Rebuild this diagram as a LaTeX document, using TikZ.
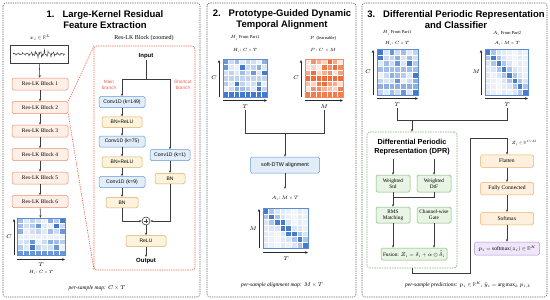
\documentclass[tikz,border=0pt]{standalone}
\usepackage{amsmath}
\usepackage{fontspec}
\usepackage{unicode-math}
\setmainfont{Liberation Serif}
\setsansfont{Liberation Sans}
\setmathfont{Latin Modern Math}
\usetikzlibrary{arrows.meta,calc}

\definecolor{pborder}{RGB}{95,95,95}
\definecolor{resfill}{RGB}{253,238,230}
\definecolor{resdraw}{RGB}{232,140,115}
\definecolor{zoomred}{RGB}{235,95,70}
\definecolor{convfill}{RGB}{226,237,250}
\definecolor{convdraw}{RGB}{100,150,210}
\definecolor{bnfill}{RGB}{253,242,218}
\definecolor{bndraw}{RGB}{215,175,100}
\definecolor{dprfill}{RGB}{232,244,228}
\definecolor{dprdraw}{RGB}{125,180,115}
\definecolor{clsfill}{RGB}{254,240,220}
\definecolor{clsdraw}{RGB}{240,175,100}
\definecolor{outfill}{RGB}{240,230,250}
\definecolor{outdraw}{RGB}{175,140,215}
\definecolor{hblue}{RGB}{50,110,200}
\definecolor{horange}{RGB}{240,110,60}
\definecolor{linec}{RGB}{60,60,60}
\definecolor{axc}{RGB}{40,40,40}

\newcommand\hmrand[9]{%
  \pgfmathsetmacro\hmcw{#3/#5}%
  \pgfmathsetmacro\hmch{#4/#6}%
  \foreach \i in {1,...,#5}{\foreach \j in {1,...,#6}{%
    \pgfmathtruncatemacro\hmv{mod(\i*7+\j*13+\i*\j*\j*3+#8,11)}%
    \pgfmathtruncatemacro\hmp{{#9}[\hmv]}%
    \fill[#7!\hmp!white] ({#1+(\i-1)*\hmcw},{#2+(\j-1)*\hmch}) rectangle ++(\hmcw,\hmch);
    \draw[white, line width=0.35pt] ({#1+(\i-1)*\hmcw},{#2+(\j-1)*\hmch}) rectangle ++(\hmcw,\hmch);
  }}%
  \draw[#7!80!white, line width=0.35pt] (#1,#2) rectangle ++(#3,#4);
}
\newcommand\hmdiag[7]{%
  \pgfmathsetmacro\hmcw{#3/#5}%
  \pgfmathsetmacro\hmch{#4/#6}%
  \foreach \i in {1,...,#5}{\foreach \j in {1,...,#6}{%
    \pgfmathsetmacro\hmd{abs((\i-0.5)*#6/#5-(\j-0.5))}%
    \pgfmathtruncatemacro\hmp{\hmd<0.6?90:(\hmd<1.3?40:(\hmd<2.2?18:6+mod(\i*5+\j*3,3)*4))}%
    \fill[#7!\hmp!white] ({#1+(\i-1)*\hmcw},{#2+(\j-1)*\hmch}) rectangle ++(\hmcw,\hmch);
    \draw[white, line width=0.35pt] ({#1+(\i-1)*\hmcw},{#2+(\j-1)*\hmch}) rectangle ++(\hmcw,\hmch);
  }}%
  \draw[#7!80!white, line width=0.35pt] (#1,#2) rectangle ++(#3,#4);
}

\tikzset{
 panel/.style={draw=pborder, line width=0.6pt, dash pattern=on 1.3pt off 1pt, rounded corners=3pt},
 basebox/.style={rounded corners=1.6pt, inner sep=0pt, line width=0.5pt, align=center},
 resbox/.style={basebox, draw=resdraw, fill=resfill, minimum width=56pt, minimum height=12pt, font=\fontsize{5.5}{6.5}\selectfont},
 convbox/.style={basebox, draw=convdraw, fill=convfill, minimum height=11pt, font=\sffamily\fontsize{5.1}{6}\selectfont},
 bnbox/.style={basebox, draw=bndraw, fill=bnfill, minimum height=10.5pt, font=\sffamily\fontsize{5}{6}\selectfont},
 dprbox/.style={basebox, draw=dprdraw, fill=dprfill, minimum width=34pt, font=\fontsize{5.3}{6.3}\selectfont},
 clsbox/.style={basebox, draw=clsdraw, fill=clsfill, minimum width=53pt, minimum height=12.5pt, font=\fontsize{5.6}{6.5}\selectfont},
 outbox/.style={basebox, draw=outdraw, fill=outfill, minimum width=65pt, minimum height=13pt, font=\fontsize{5.5}{6.5}\selectfont},
 lbl/.style={inner sep=0.5pt, font=\fontsize{4.5}{5}\selectfont},
 axl/.style={inner sep=0.5pt, font=\fontsize{5.5}{6}\selectfont},
 captxt/.style={inner sep=0.5pt, font=\itshape\fontsize{5.5}{6.5}\selectfont},
 ttl/.style={align=center, inner sep=0pt, font=\sffamily\bfseries\fontsize{9.5}{11}\selectfont},
 ln/.style={draw=linec, line width=0.55pt},
 arr/.style={ln, -{Stealth[length=2.6pt,width=2.2pt]}},
 axis/.style={draw=axc, line width=0.75pt, -{Stealth[length=3pt,width=2.6pt]}},
 zoomd/.style={draw=zoomred, line width=0.6pt, dash pattern=on 1.3pt off 1pt},
 brl/.style={inner sep=0.5pt, align=center, text=zoomred, font=\sffamily\fontsize{4.7}{5.4}\selectfont},
 bold6/.style={inner sep=1pt, font=\sffamily\bfseries\fontsize{6}{7}\selectfont},
}

\begin{document}
\begin{tikzpicture}[x=1pt,y=-1pt]
\useasboundingbox (0,0) rectangle (550,300);
% panels
\draw[panel] (3,3) rectangle (200,297);
\draw[panel] (207,3) rectangle (356,297);
\draw[panel] (362,3) rectangle (547,297);

% ---------------- Panel 1
\node[ttl] (t1) at (105,19.5) {1.\hspace{8pt}Large-Kernel Residual\\Feature Extraction};
\node[lbl, font=\fontsize{5.2}{6}\selectfont] (xl) at (40,38) {$x_i \in \mathbb{R}^L$};
\node[draw=linec, line width=0.6pt, fill=white, minimum width=58pt, minimum height=18pt, inner sep=0pt] (sig) at (39,54) {\phantom{.}};
\draw[linec, line width=0.4pt] plot[domain=0:52, samples=105] ({13+\x},{54-(0.6+1.5*exp(-((\x-30)/12)^2))*(sin(\x*83)+0.8*sin(\x*197+30)+0.5*sin(\x*311))});
\foreach \k/\yy in {1/84,2/107.5,3/131,4/154.5,5/178,6/201.5}{
  \node[resbox] (b\k) at (40,\yy) {Res-LK Block \k};
}
\draw[arr] (sig) -- (b1);
\foreach \a/\b in {1/2,2/3,3/4,4/5,5/6} \draw[arr] (b\a) -- (b\b);
\node[inner sep=0pt, minimum width=48pt, minimum height=37pt] (hm1) at (41,236.5) {\phantom{.}};
\hmrand{17}{218}{48}{37}{8}{7}{hblue}{3}{10,22,30,15,45,25,72,18,92,35,55}
\draw[arr] (b6) -- (hm1);
\draw[axis] (14,255) -- (14,219);
\draw[axis] (17,259.5) -- (65,259.5);
\node[axl] (C1) at (9,237) {$C$};
\node[axl] (T1) at (41,265) {$T$};
\node[lbl] (H1) at (41,272) {$H_i$: $C\times T$};
\node[captxt] (cap1) at (97,288) {per-sample map: $C\times T$};

% zoom box
\coordinate (zt) at (94,46);
\coordinate (zb) at (94,270);
\draw[zoomd, rounded corners=3pt] (zt) rectangle (195,270);
\draw[zoomd] (b2.north east) -- (zt);
\draw[zoomd] (b2.south east) -- (zb);
\node[lbl, font=\fontsize{6}{7}\selectfont] (zl) at (144,38) {Res-LK Block (zoomed)};

\node[bold6] (in) at (146,56) {Input};
\coordinate (split) at (146,79);
\node[brl] (mb) at (109,85) {Main\\branch};
\node[brl] (sb) at (183,85) {Shortcut\\branch};
\node[convbox, minimum width=46pt] (c1) at (122,102) {Conv1D (k=149)};
\node[bnbox, minimum width=40pt] (r1) at (122,122) {BN+ReLU};
\node[convbox, minimum width=46pt] (c2) at (122,141.5) {Conv1D (k=75)};
\node[bnbox, minimum width=40pt] (r2) at (122,162) {BN+ReLU};
\node[convbox, minimum width=46pt] (c3) at (122,182) {Conv1D (k=9)};
\node[bnbox, minimum width=32pt] (bn) at (122,202.5) {BN};
\node[convbox, minimum width=40pt] (cs) at (170,155) {Conv1D (k=1)};
\node[bnbox, minimum width=30pt] (bs) at (170,178.5) {BN};
\node[draw=linec, line width=0.55pt, fill=white, circle, minimum size=8pt, inner sep=0pt] (plus) at (146,221) {\phantom{.}};
\draw[linec, line width=0.5pt] ($(plus.center)+(-2.3,0)$) -- ++(4.6,0);
\draw[linec, line width=0.5pt] ($(plus.center)+(0,-2.3)$) -- ++(0,4.6);
\node[bnbox, minimum width=40pt, minimum height=11pt] (relu) at (146,241) {ReLU};
\node[bold6] (out) at (146,261) {Output};

\draw[ln] (in) -- (split);
\draw[arr] (split) -| (c1);
\draw[arr] (split) -| (cs);
\draw[arr] (c1) -- (r1);
\draw[arr] (r1) -- (c2);
\draw[arr] (c2) -- (r2);
\draw[arr] (r2) -- (c3);
\draw[arr] (c3) -- (bn);
\draw[arr] (cs) -- (bs);
\draw[arr] (bn) |- (plus);
\draw[arr] (bs) |- (plus);
\draw[arr] (plus) -- (relu);
\draw[arr] (relu) -- (out);

% ---------------- Panel 2
\node[ttl] (t2) at (282,19.5) {2.\hspace{8pt}Prototype-Guided Dynamic\\Temporal Alignment};
\node[lbl] (h2a) at (245,38) {$H_i$ From Part1};
\node[lbl] (h2b) at (245,50) {$H_i$: $C\times T$};
\node[lbl] (p2a) at (323,38) {$P$\ \ (learnable)};
\node[lbl] (p2b) at (323,50) {$P$ : $C\ \times M$};
\hmrand{223}{59}{44}{38}{8}{7}{hblue}{5}{10,22,30,15,45,25,72,18,92,35,55}
\hmrand{305}{59}{38}{38}{7}{7}{horange}{2}{30,55,75,20,65,90,45,80,15,60,100}
\draw[axis] (219,97) -- (219,60);
\draw[axis] (223,100.5) -- (267,100.5);
\draw[axis] (301,97) -- (301,60);
\draw[axis] (305,100.5) -- (343,100.5);
\node[axl] (C2) at (214,78) {$C$};
\node[axl] (C2b) at (296,78) {$C$};
\node[axl] (T2) at (245,107) {$T$};
\node[axl] (M2) at (324,107) {$M$};
\coordinate (j2) at (285,133);
\draw[ln] (T2) |- (j2);
\draw[ln] (M2) |- (j2);
\node[convbox, minimum width=69pt, minimum height=16pt, font=\sffamily\fontsize{5.4}{6}\selectfont] (dtw) at (285,165) {soft-DTW alignment};
\draw[arr] (j2) -- (dtw);
\node[lbl, font=\fontsize{4.8}{5}\selectfont] (Al) at (285,198) {$A_i$: $M\times T$};
\draw[arr, shorten >=6pt] (dtw) -- (Al);
\hmdiag{263}{208}{45}{40}{8}{7}{hblue}
\draw[axis] (259,248) -- (259,209);
\draw[axis] (263,252.5) -- (308,252.5);
\node[axl] (M2b) at (253,229) {$M$};
\node[axl] (T2b) at (286,258.5) {$T$};
\node[captxt] (cap2) at (282,285) {per-sample alignment map: $M\times T$};

% ---------------- Panel 3
\node[ttl] (t3) at (456,19.5) {3.\hspace{8pt}Differential Periodic Representation\\and Classifier};
\node[lbl] (h3a) at (397,33) {$H_i$ From Part1};
\node[lbl] (h3b) at (397,43) {$H_i$: $C\times T$};
\node[lbl] (a3a) at (507,33) {$A_i$ From Part2};
\node[lbl] (a3b) at (507,43) {$A_i$: $M\times T$};
\hmrand{377}{49}{41}{46}{7}{8}{hblue}{7}{10,22,30,15,45,25,72,18,92,35,55}
\hmdiag{485}{49}{43}{46}{8}{8}{hblue}
\draw[axis] (373,95) -- (373,50);
\draw[axis] (377,98.5) -- (418,98.5);
\draw[axis] (481,95) -- (481,50);
\draw[axis] (485,98.5) -- (528,98.5);
\node[axl] (C3) at (368,72) {$C$};
\node[axl] (M3) at (476,72) {$M$};
\node[axl] (T3) at (397,105) {$T$};
\node[axl] (T3b) at (507,105) {$T$};
\coordinate (j3) at (412,120);
\draw[ln] (T3) |- (j3);
\draw[ln] (T3b) |- (j3);

\node[draw=dprdraw, line width=0.6pt, dash pattern=on 1.5pt off 1pt, rounded corners=3pt, minimum width=90pt, minimum height=136pt, inner sep=0pt] (dpr) at (412,200) {\phantom{.}};
\draw[arr] (j3) -- (dpr);
\node[align=center, inner sep=0pt, font=\sffamily\bfseries\fontsize{7.3}{9.5}\selectfont] (dprt) at (412,147) {Differential Periodic\\Representation (DPR)};
\coordinate (s1) at (393,159);
\coordinate (s2) at (434,159);
\node[dprbox, minimum height=17pt] (ws) at (393,183.5) {Weighted\\Std};
\node[dprbox, minimum height=17pt] (wd) at (434,183.5) {Weighted\\DtF};
\node[dprbox, minimum height=16pt] (rms) at (393,215) {RMS\\Matching};
\node[dprbox, minimum height=16pt] (gate) at (434,215) {Channel-wise\\Gate};
\node[dprbox, minimum width=66pt, minimum height=12pt] (fus) at (414,254) {Fusion: $Z_i=\delta_i+\alpha\odot\tilde{\delta}_i$};
\coordinate (m1) at (393,197);
\draw[arr] (s1) -- (ws);
\draw[arr] (s2) -- (wd);
\draw[arr] (ws) -- (rms);
\draw[ln] (wd) |- (m1);
\draw[arr] (rms) -- (rms |- fus.north);
\draw[arr] (gate) -- (gate |- fus.north);

\node[clsbox] (flat) at (507,161) {Flatten};
\node[clsbox] (fc) at (507,188.5) {Fully Connected};
\node[clsbox] (soft) at (507,218.5) {Softmax};
\node[outbox] (pout) at (507,248.5) {$p_i=\mathrm{softmax}(z_i)\in\mathbb{R}^K$};
\draw[arr] (flat) -- (fc);
\draw[arr] (fc) -- (soft);
\draw[arr] (soft) -- (pout);
\coordinate (l1) at (412,273);
\coordinate (l2) at (470,273);
\coordinate (l3) at (470,138);
\coordinate (l4) at (507,138);
\draw[arr] (dpr) -- (l1) -- (l2) -- (l3) -- (l4) -- (flat);
\node[lbl, anchor=west] (zl3) at (511,143) {$Z_i\in\mathbb{R}^{C\times M}$};
\node[captxt] (cap3) at (468,285) {per-sample predictions: $p_i\in\mathbb{R}^K$, $\hat{y}_i=\arg\max_k p_{i,k}$};
\end{tikzpicture}
\end{document}
